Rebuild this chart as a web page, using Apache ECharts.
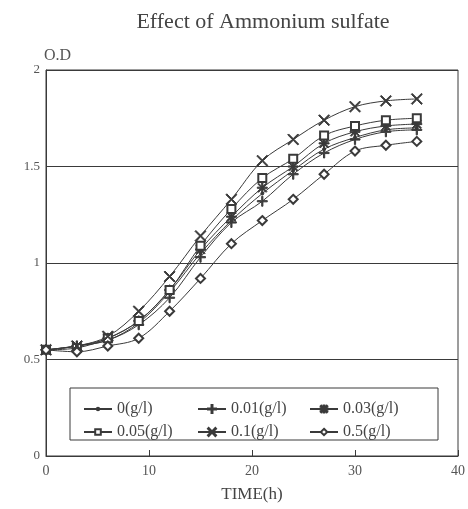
<!DOCTYPE html>
<html>
<head>
<meta charset="utf-8">
<script src="https://cdn.jsdelivr.net/npm/echarts@6/dist/echarts.min.js"></script>
<style>
  html, body { margin: 0; padding: 0; background: #fff; }
  #chart { width: 468px; height: 509px; }
</style>
</head>
<body>
<div id="chart"></div>
<script>
const times = [0, 3, 6, 9, 12, 15, 18, 21, 24, 27, 30, 33, 36];
const names = ['0(g/l)', '0.01(g/l)', '0.03(g/l)', '0.05(g/l)', '0.1(g/l)', '0.5(g/l)'];
const od0   = [0.55, 0.57, 0.60, 0.69, 0.85, 1.05, 1.22, 1.36, 1.48, 1.59, 1.65, 1.69, 1.70];
const od001 = [0.55, 0.57, 0.60, 0.68, 0.82, 1.03, 1.21, 1.32, 1.46, 1.57, 1.64, 1.68, 1.69];
const od003 = [0.55, 0.57, 0.61, 0.70, 0.86, 1.07, 1.24, 1.39, 1.50, 1.62, 1.68, 1.71, 1.72];
const od005 = [0.55, 0.56, 0.61, 0.70, 0.86, 1.09, 1.28, 1.44, 1.54, 1.66, 1.71, 1.74, 1.75];
const od01  = [0.55, 0.57, 0.62, 0.75, 0.93, 1.14, 1.33, 1.53, 1.64, 1.74, 1.81, 1.84, 1.85];
const od05  = [0.55, 0.54, 0.57, 0.61, 0.75, 0.92, 1.10, 1.22, 1.33, 1.46, 1.58, 1.61, 1.63];
const seriesValues = [od0, od001, od003, od005, od01, od05];

const ink = '#3a3a3a';
const font = '"Liberation Serif", "DejaVu Serif", serif';

// marker shapes (filled polygons so they draw without stroke)
const plus = 'path://M4.4,0H5.6V4.4H10V5.6H5.6V10H4.4V5.6H0V4.4H4.4Z';
const cross = 'path://M0.8,0L5,4.2L9.2,0L10,0.8L5.8,5L10,9.2L9.2,10L5,5.8L0.8,10L0,9.2L4.2,5L0,0.8Z';
const star = 'path://M4.4,0H5.6V4.4H10V5.6H5.6V10H4.4V5.6H0V4.4H4.4Z M1.2,0.4L5,4.2L8.8,0.4L9.6,1.2L5.8,5L9.6,8.8L8.8,9.6L5,5.8L1.2,9.6L0.4,8.8L4.2,5L0.4,1.2Z';
const symbols = ['circle', plus, star, 'emptyRect', cross, 'emptyDiamond'];
const sizes = [3, 10, 10, 8, 11, 9];
const legendIconH = [3, 10, 9, 7, 10, 8];

const chart = echarts.init(document.getElementById('chart'));

const series = names.map((n, i) => ({
  name: n,
  type: 'line',
  smooth: 0.35,
  data: times.map((t, j) => [t, seriesValues[i][j]]),
  symbol: symbols[i],
  symbolSize: sizes[i],
  showAllSymbol: true,
  lineStyle: { color: ink, width: 1 },
  itemStyle: { color: ink, borderColor: ink, borderWidth: 1 },
  emphasis: { disabled: true }
}));

const legendPos = [[78, 396], [192, 396], [304, 396], [78, 419], [192, 419], [304, 419]];
const legends = names.map((n, i) => ({
  data: [n],
  left: legendPos[i][0],
  top: legendPos[i][1],
  itemWidth: 28,
  itemHeight: legendIconH[i],
  itemGap: 8,
  textStyle: { fontFamily: font, fontSize: 16, color: '#444' },
  selectedMode: false
}));

chart.setOption({
  animation: false,
  backgroundColor: '#fff',
  title: {
    text: 'Effect of Ammonium sulfate',
    left: 258,
    textAlign: 'center',
    top: 6,
    textStyle: { fontFamily: font, fontSize: 22, fontWeight: 'normal', color: '#444' }
  },
  legend: legends,
  grid: {
    left: 46, right: 9, top: 70, bottom: 53,
    show: true, borderColor: ink, borderWidth: 1
  },
  xAxis: {
    type: 'value',
    min: 0, max: 40, interval: 10,
    name: 'TIME(h)',
    nameLocation: 'middle',
    nameGap: 30,
    nameTextStyle: { fontFamily: font, fontSize: 17, color: '#444' },
    axisLine: { lineStyle: { color: ink, width: 1 } },
    axisTick: { inside: true, length: 6, lineStyle: { color: ink } },
    axisLabel: { fontFamily: font, fontSize: 14, color: '#555', margin: 8 },
    splitLine: { show: false }
  },
  yAxis: {
    type: 'value',
    min: 0, max: 2, interval: 0.5,
    name: 'O.D',
    nameLocation: 'end',
    nameGap: 2,
    nameTextStyle: { fontFamily: font, fontSize: 16, color: '#555', align: 'left', padding: [0, 0, 0, -2] },
    axisLine: { show: true, lineStyle: { color: ink, width: 1 } },
    axisTick: { show: false },
    axisLabel: { fontFamily: font, fontSize: 13, color: '#555', margin: 6 },
    splitLine: { show: true, lineStyle: { color: ink, width: 1 } }
  },
  graphic: [{
    type: 'rect',
    shape: { x: 70, y: 388, width: 368, height: 52 },
    style: { fill: 'none', stroke: ink, lineWidth: 1 },
    z: 10
  }],
  series: series
});
</script>
</body>
</html>
